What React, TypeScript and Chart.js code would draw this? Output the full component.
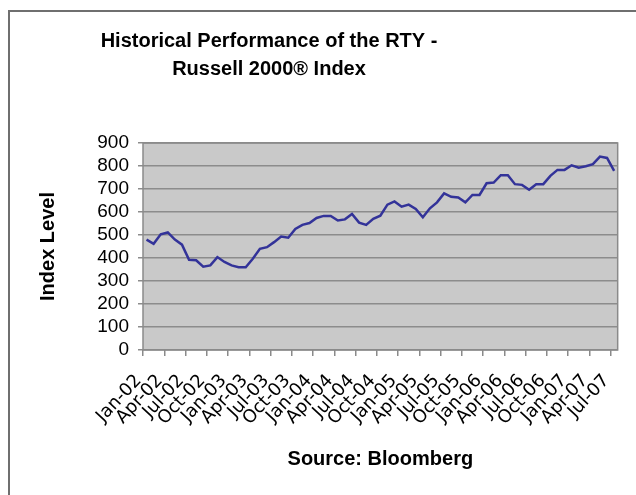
import React, { useEffect, useRef } from "react";
import { Chart, registerables } from "chart.js";

Chart.register(...registerables);

const categories = [
  "Jan-02", "Feb-02", "Mar-02", "Apr-02", "May-02", "Jun-02", "Jul-02", "Aug-02", "Sep-02", "Oct-02", "Nov-02", "Dec-02",
  "Jan-03", "Feb-03", "Mar-03", "Apr-03", "May-03", "Jun-03", "Jul-03", "Aug-03", "Sep-03", "Oct-03", "Nov-03", "Dec-03",
  "Jan-04", "Feb-04", "Mar-04", "Apr-04", "May-04", "Jun-04", "Jul-04", "Aug-04", "Sep-04", "Oct-04", "Nov-04", "Dec-04",
  "Jan-05", "Feb-05", "Mar-05", "Apr-05", "May-05", "Jun-05", "Jul-05", "Aug-05", "Sep-05", "Oct-05", "Nov-05", "Dec-05",
  "Jan-06", "Feb-06", "Mar-06", "Apr-06", "May-06", "Jun-06", "Jul-06", "Aug-06", "Sep-06", "Oct-06", "Nov-06", "Dec-06",
  "Jan-07", "Feb-07", "Mar-07", "Apr-07", "May-07", "Jun-07", "Jul-07",
];

const indexLevel = [
  480, 462, 503, 511, 480, 458, 392, 390, 362, 368, 404, 383,
  368, 360, 360, 397, 440, 447, 469, 493, 488, 526, 544, 552,
  574, 583, 583, 563, 568, 591, 554, 544, 570, 584, 632, 646,
  623, 632, 613, 577, 616, 642, 681, 666, 663, 642, 674, 674,
  725, 728, 760, 760, 721, 718, 697, 721, 721, 757, 783, 783,
  803, 793, 799, 808, 841, 835, 779,
];

const titleLines = ["Historical Performance of the RTY -", "Russell 2000® Index"];
const yMin = 0;
const yMax = 900;
const yStep = 100;
const labelEvery = 3;

export default function App() {
  const ref = useRef<HTMLCanvasElement | null>(null);

  useEffect(() => {
    const canvas = ref.current;
    if (!canvas) return;

    const decor = {
      id: "decor",
      beforeDraw(chart: any) {
        const { ctx, chartArea: a } = chart;
        ctx.save();
        ctx.fillStyle = "#ffffff";
        ctx.fillRect(0, 0, chart.width, chart.height);
        ctx.fillStyle = "#6f6f6f";
        ctx.fillRect(8, 10, 2, chart.height - 10);
        ctx.fillRect(8, 10, chart.width - 8, 2);
        ctx.fillStyle = "#c9c9c9";
        ctx.fillRect(a.left, a.top, a.right - a.left, a.bottom - a.top);
        ctx.restore();
      },
      afterDraw(chart: any) {
        const { ctx, chartArea: a } = chart;
        ctx.save();
        ctx.strokeStyle = "#8a8a8a";
        ctx.lineWidth = 1.5;
        ctx.strokeRect(a.left, a.top, a.right - a.left, a.bottom - a.top);
        ctx.fillStyle = "#000";
        ctx.font = "bold 20px 'Liberation Sans', Arial, sans-serif";
        ctx.textAlign = "center";
        ctx.textBaseline = "middle";
        titleLines.forEach((t, i) => ctx.fillText(t, 269, 41 + i * 28));
        ctx.restore();
      },
    };

    const chart = new Chart(canvas, {
      type: "line",
      data: {
        labels: categories,
        datasets: [
          {
            label: "RTY",
            data: indexLevel,
            borderColor: "#333399",
            borderWidth: 2.5,
            pointRadius: 0,
            tension: 0,
            fill: false,
          },
        ],
      },
      options: {
        animation: false,
        responsive: false,
        devicePixelRatio: 1,
        layout: { padding: { left: 10, right: 9, top: 143, bottom: 10 } },
        plugins: {
          legend: { display: false },
          tooltip: { enabled: false },
          title: { display: false },
        },
        scales: {
          x: {
            offset: true,
            grid: {
              offset: true,
              drawOnChartArea: false,
              drawTicks: true,
              tickLength: 6,
              lineWidth: 1.5,
              tickColor: (c: any) => (c.index % labelEvery === 0 ? "#8a8a8a" : "rgba(0,0,0,0)"),
            },
            border: { display: false },
            ticks: {
              autoSkip: false,
              maxRotation: 47,
              minRotation: 47,
              padding: 6,
              color: "#000",
              font: { family: "'DejaVu Sans', sans-serif", size: 18 },
              callback: function (this: any, v: any, i: number) {
                return i % labelEvery === 0 ? this.getLabelForValue(v) + "  " : "";
              },
            },
            title: {
              display: true,
              text: "Source: Bloomberg",
              color: "#000",
              font: { family: "'Liberation Sans', Arial, sans-serif", size: 20, weight: "bold" },
              padding: { top: 0, bottom: 14 },
            },
            afterFit: (s: any) => {
              s.height = 135;
            },
          },
          y: {
            min: yMin,
            max: yMax,
            ticks: {
              stepSize: yStep,
              autoSkip: false,
              color: "#000",
              padding: 9,
              font: { family: "'Liberation Sans', Arial, sans-serif", size: 19 },
            },
            grid: {
              color: "#8c8c8c",
              lineWidth: 1.5,
              drawTicks: true,
              tickLength: 5,
              tickColor: "#8c8c8c",
            },
            border: { display: false },
            title: {
              display: true,
              text: "Index Level",
              color: "#000",
              font: { family: "'Liberation Sans', Arial, sans-serif", size: 20, weight: "bold" },
              padding: { top: 26, bottom: 0 },
            },
            afterFit: (s: any) => {
              s.width = 133;
            },
          },
        },
      },
      plugins: [decor],
    });

    return () => chart.destroy();
  }, []);

  return (
    <div style={{ position: "absolute", left: 0, top: 0, width: 636, height: 495 }}>
      <canvas ref={ref} width={636} height={495} style={{ display: "block" }} />
    </div>
  );
}
